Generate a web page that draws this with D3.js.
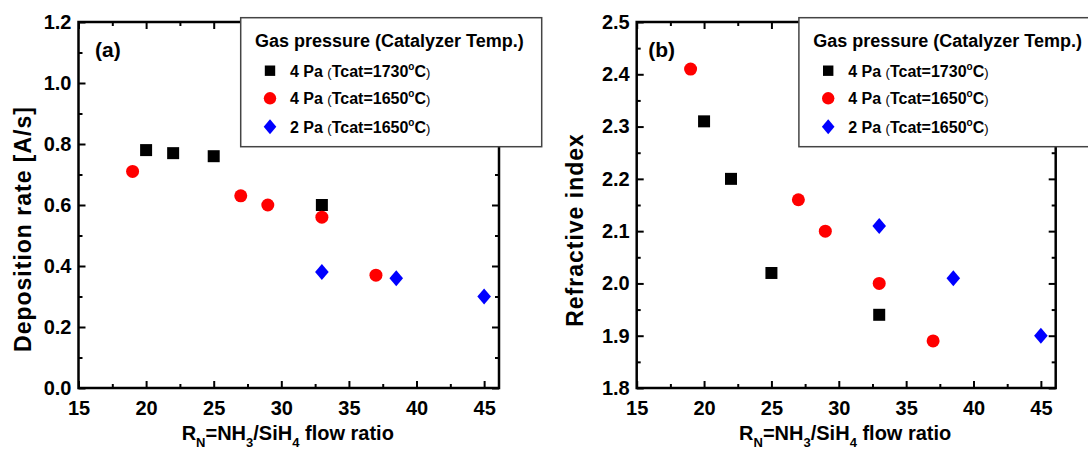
<!DOCTYPE html>
<html>
<head>
<meta charset="utf-8">
<title>Deposition rate and refractive index</title>
<script src="https://cdn.jsdelivr.net/npm/d3@7"></script>
<style>
  body { margin: 0; background: #fff; }
  svg { display: block; font-family: "Liberation Sans", Arial, sans-serif; font-weight: bold; }
</style>
</head>
<body>
<div id="chart"></div>
<script>
// ---- data ----
var xTicks = [15, 20, 25, 30, 35, 40, 45];
var xMinor = [17.5, 22.5, 27.5, 32.5, 37.5, 42.5];
var rateTicks = [0.0, 0.2, 0.4, 0.6, 0.8, 1.0, 1.2];
var rateMinor = [0.1, 0.3, 0.5, 0.7, 0.9, 1.1];
var indexTicks = [1.8, 1.9, 2.0, 2.1, 2.2, 2.3, 2.4, 2.5];
var indexMinor = [1.85, 1.95, 2.05, 2.15, 2.25, 2.35, 2.45];

// 4 Pa, Tcat = 1730 C (black squares)
var ratioA = [20, 22, 25, 33];
var rateA = [0.78, 0.77, 0.76, 0.60];
var indexA = [2.31, 2.20, 2.02, 1.94];
// 4 Pa, Tcat = 1650 C (red circles)
var ratioB = [19, 27, 29, 33, 37];
var rateB = [0.71, 0.63, 0.60, 0.56, 0.37];
var indexB = [2.41, 2.16, 2.10, 2.00, 1.89];
// 2 Pa, Tcat = 1650 C (blue diamonds)
var ratioC = [33, 38.5, 45];
var rateC = [0.38, 0.36, 0.30];
var indexC = [2.11, 2.01, 1.90];

var legendTitle = 'Gas pressure (Catalyzer Temp.)';
var legendPressure = ['4 Pa', '4 Pa', '2 Pa'];
var legendTemp = ['1730', '1650', '1650'];

var svg = d3.select('#chart')
  .append('svg')
  .attr('width', 1088)
  .attr('height', 452);

var shapes = {
  square: 'M-6,-6H6V6H-6Z',
  circle: 'M6.5,0A6.5,6.5 0 1,1 -6.5,0A6.5,6.5 0 1,1 6.5,0Z',
  diamond: 'M0,-8L6.8,0L0,8L-6.8,0Z'
};
var legendShapes = {
  square: 'M-5.2,-5.2H5.2V5.2H-5.2Z',
  circle: 'M6.2,0A6.2,6.2 0 1,1 -6.2,0A6.2,6.2 0 1,1 6.2,0Z',
  diamond: 'M0,-7.5L6.3,0L0,7.5L-6.3,0Z'
};
var styles = [
  { shape: 'square', color: '#000000' },
  { shape: 'circle', color: '#ff0000' },
  { shape: 'diamond', color: '#0000ff' }
];

function drawPanel(opt) {
  var x = d3.scaleLinear().domain([15, 46.1]).range([opt.left, opt.right]);
  var y = d3.scaleLinear().domain(opt.yDomain).range([388, 22]);
  var g = svg.append('g');

  // frame
  g.append('rect')
    .attr('x', opt.left).attr('y', 22)
    .attr('width', opt.right - opt.left).attr('height', 388 - 22)
    .attr('fill', 'none').attr('stroke', '#000').attr('stroke-width', 2.5);

  function axisStyle(sel) {
    sel.select('.domain').remove();
    sel.selectAll('line').attr('stroke', '#000').attr('stroke-width', 2);
    sel.selectAll('text').attr('fill', '#000').style('font-size', '20px').style('font-weight', 'bold');
  }

  // bottom
  g.append('g').attr('transform', 'translate(0,388)')
    .call(d3.axisBottom(x).tickValues(xTicks).tickSizeInner(-7).tickSizeOuter(0).tickPadding(12.8))
    .call(axisStyle);
  g.append('g').attr('transform', 'translate(0,388)')
    .call(d3.axisBottom(x).tickValues(xMinor).tickFormat('').tickSizeInner(-4).tickSizeOuter(0))
    .call(axisStyle);
  // top
  g.append('g').attr('transform', 'translate(0,22)')
    .call(d3.axisTop(x).tickValues(xTicks).tickFormat('').tickSizeInner(-7).tickSizeOuter(0))
    .call(axisStyle);
  g.append('g').attr('transform', 'translate(0,22)')
    .call(d3.axisTop(x).tickValues(xMinor).tickFormat('').tickSizeInner(-4).tickSizeOuter(0))
    .call(axisStyle);
  // left
  g.append('g').attr('transform', 'translate(' + opt.left + ',0)')
    .call(d3.axisLeft(y).tickValues(opt.yTicks).tickFormat(d3.format('.1f')).tickSizeInner(-7).tickSizeOuter(0).tickPadding(7))
    .call(axisStyle);
  g.append('g').attr('transform', 'translate(' + opt.left + ',0)')
    .call(d3.axisLeft(y).tickValues(opt.yMinor).tickFormat('').tickSizeInner(-4).tickSizeOuter(0))
    .call(axisStyle);
  // right
  g.append('g').attr('transform', 'translate(' + opt.right + ',0)')
    .call(d3.axisRight(y).tickValues(opt.yTicks).tickFormat('').tickSizeInner(-7).tickSizeOuter(0))
    .call(axisStyle);
  g.append('g').attr('transform', 'translate(' + opt.right + ',0)')
    .call(d3.axisRight(y).tickValues(opt.yMinor).tickFormat('').tickSizeInner(-4).tickSizeOuter(0))
    .call(axisStyle);

  // x title
  var xt = g.append('text')
    .attr('x', (opt.left + opt.right) / 2 - 1)
    .attr('y', 440)
    .attr('text-anchor', 'middle')
    .style('font-size', '20px');
  xt.append('tspan').text('R');
  xt.append('tspan').attr('dy', 7).style('font-size', '13px').text('N');
  xt.append('tspan').attr('dy', -7).text('=NH');
  xt.append('tspan').attr('dy', 7).style('font-size', '13px').text('3');
  xt.append('tspan').attr('dy', -7).text('/SiH');
  xt.append('tspan').attr('dy', 7).style('font-size', '13px').text('4');
  xt.append('tspan').attr('dy', -7).text(' flow ratio');

  // y title
  g.append('text')
    .attr('transform', 'translate(' + opt.yTitleX + ',' + opt.yTitleY + ') rotate(-90)')
    .attr('text-anchor', 'middle')
    .style('font-size', '23px')
    .style('letter-spacing', '1px')
    .text(opt.yTitle);

  // panel tag
  g.append('text')
    .attr('x', opt.tagX).attr('y', 57)
    .style('font-size', '21px')
    .text(opt.tag);

  // points
  opt.series.forEach(function(s, i) {
    var pts = s.xs.map(function(v, j) { return { x: v, y: s.ys[j] }; });
    g.append('g').selectAll('path')
      .data(pts)
      .enter()
      .append('path')
      .attr('d', shapes[styles[i].shape])
      .attr('fill', styles[i].color)
      .attr('transform', function(d) { return 'translate(' + x(d.x) + ',' + y(d.y) + ')'; });
  });

  // legend
  var lx = opt.left + 162.2, ly = 17.7;
  var lg = g.append('g').attr('transform', 'translate(' + lx + ',' + ly + ')');
  lg.append('rect')
    .attr('width', 301).attr('height', 129)
    .attr('fill', '#fff').attr('stroke', '#444').attr('stroke-width', 1.5);
  lg.append('text')
    .attr('x', 14.3).attr('y', 29)
    .style('font-size', '18px')
    .text(legendTitle);
  var rowY = [53, 80.6, 109];
  legendPressure.forEach(function(p, i) {
    lg.append('path')
      .attr('d', legendShapes[styles[i].shape])
      .attr('fill', styles[i].color)
      .attr('transform', 'translate(29.3,' + rowY[i] + ')');
    var t = lg.append('text')
      .attr('x', 49.3).attr('y', rowY[i] + 6)
      .style('font-size', '16px');
    t.append('tspan').style('font-size', '16px').text(p + ' ');
    t.append('tspan').style('font-size', '13px').style('font-weight', 'normal').text('(');
    t.append('tspan').text('Tcat=' + legendTemp[i]);
    t.append('tspan').attr('dy', -7).style('font-size', '10px').text('o');
    t.append('tspan').attr('dy', 7).text('C');
    t.append('tspan').style('font-size', '13px').style('font-weight', 'normal').text(')');
  });
}

drawPanel({
  left: 78.5, right: 499,
  yDomain: [0, 1.2], yTicks: rateTicks, yMinor: rateMinor,
  yTitle: 'Deposition rate [A/s]', yTitleX: 30.5, yTitleY: 229,
  tag: '(a)', tagX: 95,
  series: [
    { xs: ratioA, ys: rateA },
    { xs: ratioB, ys: rateB },
    { xs: ratioC, ys: rateC }
  ]
});

drawPanel({
  left: 636.7, right: 1055.7,
  yDomain: [1.8, 2.5], yTicks: indexTicks, yMinor: indexMinor,
  yTitle: 'Refractive index', yTitleX: 582.5, yTitleY: 230,
  tag: '(b)', tagX: 648.3,
  series: [
    { xs: ratioA, ys: indexA },
    { xs: ratioB, ys: indexB },
    { xs: ratioC, ys: indexC }
  ]
});
</script>
</body>
</html>
